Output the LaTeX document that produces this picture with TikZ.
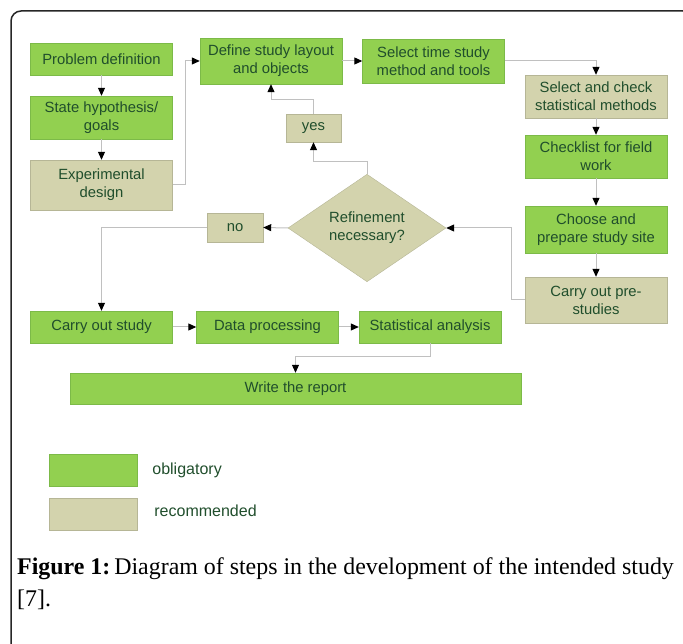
\documentclass[tikz,border=0pt]{standalone}
\usepackage{fontspec}
\setmainfont{Liberation Serif}
\newfontfamily\arialfont{Liberation Sans}
\usetikzlibrary{arrows.meta, positioning, shapes.geometric}
\definecolor{oblfill}{RGB}{146,208,80}
\definecolor{obldraw}{RGB}{124,186,72}
\definecolor{recfill}{RGB}{211,211,173}
\definecolor{recdraw}{RGB}{182,182,150}
\definecolor{linkgray}{RGB}{192,192,192}
\definecolor{boxtext}{RGB}{32,78,44}
\newcommand{\boxfont}{\arialfont\fontsize{14.8}{18}\selectfont}
\newcommand{\legfont}{\arialfont\fontsize{16}{18}\selectfont}

\begin{document}
\begin{tikzpicture}[x=1pt, y=-1pt,
  obl/.style={draw=obldraw, fill=oblfill, minimum width=142pt, minimum height=32pt,
              inner sep=0pt, align=center, font=\boxfont, text=boxtext},
  rec/.style={obl, draw=recdraw, fill=recfill},
  link/.style={draw=linkgray, line width=1pt,
               -{Triangle[length=8pt, width=7pt, color=black]}}]

  \useasboundingbox (0,0) rectangle (683,644);
  \draw[line width=1.5pt, black!85, rounded corners=10pt] (11,11) rectangle (693,660);

  % left column
  \node[obl] (prob)                          at (101.5,59)    {Problem definition};
  \node[obl, minimum height=43pt] (hyp)      at (101.5,117.5) {State hypothesis/\\goals};
  \node[rec, minimum height=50pt] (exp)      at (101.5,185)   {Experimental\\design};

  % top row
  \node[obl, minimum height=46pt] (layout)   at (271,61)      {Define study layout\\and objects};
  \node[obl, minimum height=44pt] (method)   at (433.5,61)    {Select time study\\method and tools};

  % right column
  \node[rec, minimum height=43pt] (stats)    at (596,96.5)    {Select and check\\statistical methods};
  \node[obl, minimum height=43pt] (check)    at (596,156.5)   {Checklist for field\\work};
  \node[obl, minimum height=47pt] (site)     at (596,229.5)   {Choose and\\prepare study site};
  \node[rec, minimum height=46pt] (pre)      at (596,300)     {Carry out pre-\\studies};

  % decision
  \node[rec, diamond, minimum width=158pt, minimum height=105pt] (refine) at (367,228)
       {Refinement\\necessary?};
  \node[rec, minimum width=55pt, minimum height=28pt] (yes)  at (313.5,128) {yes};
  \node[rec, minimum width=56pt, minimum height=29pt] (no)   at (235,227.5) {no};

  % bottom row
  \node[obl] (carry)                         at (101.5,327)   {Carry out study};
  \node[obl] (proc)                          at (267.5,327)   {Data processing};
  \node[obl] (anal)                          at (430,327)     {Statistical analysis};
  \node[obl, minimum width=451pt, minimum height=31pt] (report) at (295.5,388.5) {Write the report};

  \draw[link] (prob) -- (hyp);
  \draw[link] (hyp) -- (exp);
  \draw[link] (exp.east) -- ++(13,0) |- (layout.west);
  \draw[link] (layout) -- (method);
  \draw[link] (method.east) -| (stats.north);
  \draw[link] (stats) -- (check);
  \draw[link] (check) -- (site);
  \draw[link] (site) -- (pre);
  \draw[link] (pre.west) -- ++(-13,0) |- (refine.east);
  \draw[link] (refine.north) -- ++(0,-13) -| (yes.south);
  \draw[link] (yes.north) -- ++(0,-14) -| (layout.south);
  \draw[link] (refine.west) -- (no.east);
  \draw[link] (no.west) -| (carry.north);
  \draw[link] (carry) -- (proc);
  \draw[link] (proc) -- (anal);
  \draw[link] (anal.south) -- ++(0,13) -| (report.north);

  % legend
  \node[obl, minimum width=88pt] (keyobl) at (93,470) {};
  \node[rec, minimum width=88pt] (keyrec) at (93,514) {};
  \node[right=15pt of keyobl, inner sep=0pt, font=\legfont, text=boxtext] (oblname) {obligatory};
  \node[right=17pt of keyrec, inner sep=0pt, font=\legfont, text=boxtext, yshift=3pt] (recname) {recommended};

  % caption
  \node[anchor=base west, inner sep=0pt, font=\fontsize{23.9}{33}\selectfont] (cap1) at (17,574)
       {\textbf{Figure 1:}\,Diagram of steps in the development of the intended study};
  \node[anchor=base west, inner sep=0pt, font=\fontsize{23.9}{33}\selectfont] (cap2) at (17,606) {[7].};
\end{tikzpicture}
\end{document}
